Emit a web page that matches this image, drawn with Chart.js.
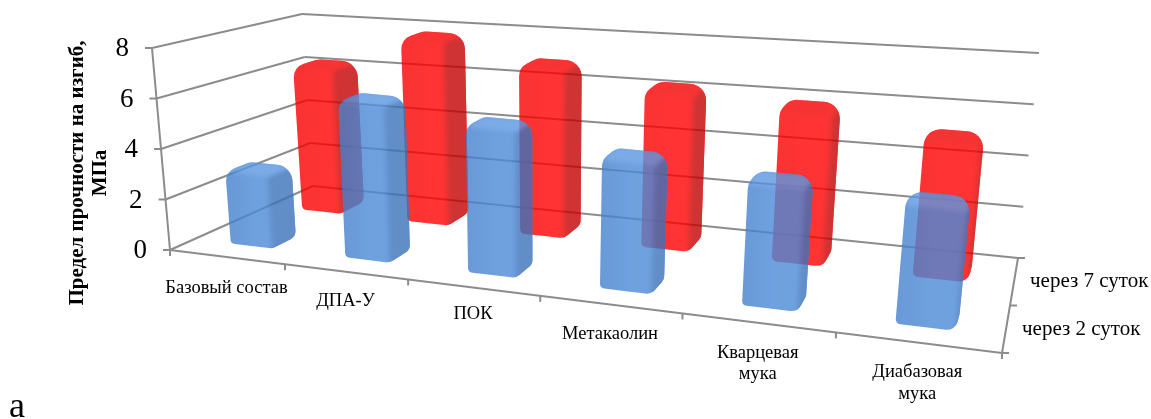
<!DOCTYPE html>
<html lang="ru">
<head>
<meta charset="utf-8">
<title>Предел прочности на изгиб</title>
<script src="https://cdn.jsdelivr.net/npm/chart.js@4"></script>
<style>
  html, body { margin: 0; padding: 0; background: #fff; }
  canvas { display: block; }
</style>
</head>
<body>
<canvas id="chart" width="1151" height="419"></canvas>
<script>
// Flexural strength by composition, shown as a 3D-style bar chart.
const categories = ['Базовый состав', 'ДПА-У', 'ПОК', 'Метакаолин', ['Кварцевая', 'мука'], ['Диабазовая', 'мука']];
const seriesNames = ['через 2 суток', 'через 7 суток'];
const after2Days = [2.9, 6.2, 5.7, 4.95, 4.6, 4.4];
const after7Days = [6.25, 7.8, 6.95, 6.3, 5.95, 5.2];
const valueTitle = ['Предел прочности на изгиб,', 'МПа'];
const panelLetter = 'а';

const SERIF = '"Liberation Serif", "Times New Roman", serif';

// Corners of the 3D box: [front/back][left/right][floor/ceiling].
const box = {
  fl0: [170, 250], fl1: [152, 48],
  fr0: [1002, 353], fr1: [1026, 133],
  bl0: [313, 186], bl1: [302, 14],
  br0: [1018, 258], br1: [1039, 53]
};
const lerp = (a, b, t) => [a[0] + (b[0] - a[0]) * t, a[1] + (b[1] - a[1]) * t];
// Perspective foreshortening along the category direction.
const foreshorten = u => { const k = 1.247; return u / (u + k * (1 - u)); };
function project(u, v, w) {
  const U = foreshorten(u);
  const front = lerp(lerp(box.fl0, box.fr0, U), lerp(box.fl1, box.fr1, U), v);
  const back = lerp(lerp(box.bl0, box.br0, U), lerp(box.bl1, box.br1, U), v);
  return lerp(front, back, w);
}

// Depth band occupied by each dataset on the floor.
const depthBands = [[0.17, 0.35], [0.69, 0.87]];
const BAR_NUDGE = 0.003;
const faceShades = [
  { side: '#3a72ba', top: '#5c97e2', core: '#4c8ad8', edge: '#4480cc' },
  { side: '#c40000', top: '#f40000', core: '#ff0000', edge: '#f80000' }
];
const BAR_ALPHA = 0.8;
const labelDrop = [31, 29, 27, 30, 30, 30];
// Corner radii of the bar outline, walking from the front-left foot.
const cornerRadii = [5, 14, 17, 17, 9, 11];

function polyPath(ctx, pts, radii) {
  ctx.beginPath();
  const n = pts.length;
  const mid = lerp(pts[n - 1], pts[0], 0.5);
  ctx.moveTo(mid[0], mid[1]);
  for (let i = 0; i < n; i++) {
    const a = pts[i], b = pts[(i + 1) % n];
    if (radii) ctx.arcTo(a[0], a[1], b[0], b[1], radii[i]); else ctx.lineTo(a[0], a[1]);
  }
  ctx.closePath();
}

const layer = document.createElement('canvas');
layer.width = 1151; layer.height = 419;

function drawBar(ctx, el, area, dsIndex) {
  const uc = (el.x - area.left) / area.width + BAR_NUDGE;
  const du = el.width / 2 / area.width;
  const v = (area.bottom - el.y) / area.height;
  const [w1, w2] = depthBands[dsIndex];
  const shade = faceShades[dsIndex];
  const u1 = uc - du, u2 = uc + du;
  const flb = project(u1, 0, w1), frb = project(u2, 0, w1), brb = project(u2, 0, w2);
  const flt = project(u1, v, w1), frt = project(u2, v, w1);
  const blt = project(u1, v, w2), brt = project(u2, v, w2);
  const outline = [flb, flt, blt, brt, brb, frb];

  const c = layer.getContext('2d');
  c.clearRect(0, 0, layer.width, layer.height);
  c.save();
  polyPath(c, outline, cornerRadii);
  c.clip();
  const g = c.createLinearGradient(flb[0], 0, frb[0], 0);
  g.addColorStop(0, shade.edge);
  g.addColorStop(0.6, shade.core);
  g.addColorStop(1, shade.core);
  c.fillStyle = g;
  c.fillRect(0, 0, layer.width, layer.height);
  c.filter = 'blur(2.5px)';
  c.fillStyle = shade.side;
  polyPath(c, [frb, frt, brt, [brt[0] + 12, brt[1]], [brb[0] + 12, brb[1] + 12], [frb[0], frb[1] + 12]]);
  c.fill();
  c.fillStyle = shade.top;
  polyPath(c, [flt, blt, brt, frt]);
  c.fill();
  c.restore();

  ctx.save();
  ctx.globalAlpha = BAR_ALPHA;
  ctx.drawImage(layer, 0, 0);
  ctx.restore();
}

function seg(ctx, a, b) {
  ctx.beginPath();
  ctx.moveTo(a[0], a[1]);
  ctx.lineTo(b[0], b[1]);
  ctx.stroke();
}

const scene = {
  id: 'scene',
  beforeDatasetsDraw(chart) {
    const ctx = chart.ctx, y = chart.scales.y, area = chart.chartArea;
    ctx.save();
    ctx.strokeStyle = '#8c8c8c';
    ctx.lineWidth = 2;
    y.ticks.forEach(t => {
      const v = (area.bottom - y.getPixelForValue(t.value)) / area.height;
      const a = project(0, v, 0);
      seg(ctx, [a[0] - 7, a[1]], a);
      seg(ctx, a, project(0, v, 1));
      seg(ctx, project(0, v, 1), project(1, v, 1));
    });
    seg(ctx, box.fl0, box.fl1);
    seg(ctx, box.fl0, box.fr0);
    seg(ctx, box.fr0, box.br0);
    // Category ticks along the front edge of the floor.
    const n = categories.length;
    for (let i = 0; i <= n; i++) {
      const p = project(i / n, 0, 0);
      seg(ctx, p, [p[0], p[1] + 6]);
    }
    // Series ticks along the right edge of the floor.
    seriesNames.concat('').forEach((_, i) => {
      const p = project(1, 0, i / seriesNames.length);
      seg(ctx, p, [p[0] + 7, p[1]]);
    });
    ctx.restore();
  },
  beforeDatasetDraw(chart, args) {
    const meta = chart.getDatasetMeta(args.index);
    meta.data.forEach(el => drawBar(chart.ctx, el, chart.chartArea, args.index));
    return false;
  },
  afterDatasetsDraw(chart) {
    const ctx = chart.ctx, x = chart.scales.x, y = chart.scales.y, area = chart.chartArea;
    ctx.save();
    ctx.fillStyle = '#000';
    ctx.textBaseline = 'middle';

    // Value labels follow the slanted left edge.
    ctx.font = '27px ' + SERIF;
    ctx.textAlign = 'right';
    y.ticks.forEach(t => {
      const v = (area.bottom - y.getPixelForValue(t.value)) / area.height;
      const a = project(0, v, 0);
      ctx.fillText(String(t.value), a[0] - 23, a[1] + 1);
    });

    // Category labels under the front edge.
    ctx.font = '18.5px ' + SERIF;
    ctx.textAlign = 'center';
    categories.forEach((label, i) => {
      const u = (x.getPixelForValue(i) - area.left) / area.width;
      const p = project(u, 0, 0);
      [].concat(label).forEach((line, j) => {
        ctx.fillText(line, p[0], p[1] + labelDrop[i] + j * 21.5);
      });
    });

    // Series names beside the depth axis.
    ctx.font = '21px ' + SERIF;
    ctx.textAlign = 'left';
    ctx.fillText(seriesNames[1], 1030, 281);
    ctx.fillText(seriesNames[0], 1022, 329);

    // Rotated value-axis title.
    ctx.save();
    ctx.font = 'bold 21px ' + SERIF;
    ctx.textAlign = 'center';
    ctx.translate(78, 173);
    ctx.rotate(-Math.PI / 2);
    ctx.fillText(valueTitle[0], 0, 0);
    ctx.fillText(valueTitle[1], 0, 23);
    ctx.restore();

    ctx.font = '36px ' + SERIF;
    ctx.textAlign = 'left';
    ctx.textBaseline = 'alphabetic';
    ctx.fillText(panelLetter, 9, 417);
    ctx.restore();
  }
};

new Chart(document.getElementById('chart'), {
  type: 'bar',
  data: {
    labels: categories,
    datasets: [
      { label: seriesNames[0], data: after2Days, backgroundColor: '#4682ce' },
      { label: seriesNames[1], data: after7Days, backgroundColor: '#ff0000' }
    ]
  },
  options: {
    responsive: false,
    animation: false,
    layout: { padding: { left: 170, right: 149, top: 48, bottom: 169 } },
    datasets: { bar: { grouped: false, categoryPercentage: 1, barPercentage: 0.37 } },
    plugins: { legend: { display: false }, tooltip: { enabled: false } },
    scales: {
      x: { display: false },
      y: { display: false, min: 0, max: 8, ticks: { stepSize: 2 } }
    }
  },
  plugins: [scene]
});
</script>
</body>
</html>
